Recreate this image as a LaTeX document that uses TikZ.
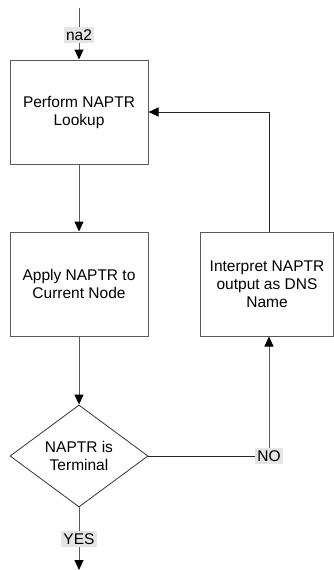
\documentclass[tikz,border=0pt]{standalone}
\usepackage{fontspec}
\setmainfont{Liberation Sans}
\usetikzlibrary{arrows.meta, positioning, shapes.geometric}

\begin{document}
\begin{tikzpicture}[x=1pt, y=-1pt, >={Triangle[length=10pt, width=9pt, color=black]},
    box/.style={draw=black!65, line width=1pt, minimum width=138pt, minimum height=104pt,
        inner sep=0pt, align=center, font=\fontsize{15.5}{18}\selectfont},
    decision/.style={diamond, draw=black!80, line width=0.8pt, minimum width=138pt,
        minimum height=102pt, inner sep=0pt, align=center, font=\fontsize{15.5}{18}\selectfont},
    tag/.style={fill=black!10, inner sep=2.5pt, font=\fontsize{15.5}{18}\selectfont},
    flow/.style={->, line width=1pt, draw=black!65}]

    % Fix the frame of the picture
    \useasboundingbox (0,0) rectangle (334,570);

    % Entry and exit points
    \coordinate (In) at (79,8);
    \coordinate (Out) at (79,570);

    % Process steps
    \node[box] (Lookup) at (79,112) {Perform NAPTR\\Lookup};
    \node[box] (Apply) at (79,284) {Apply NAPTR to\\Current Node};
    \node[box, minimum width=133pt] (Interpret) at (267,284) {Interpret NAPTR\\output as DNS\\Name};
    \node[decision] (Terminal) at (79,456) {NAPTR is\\Terminal};

    % Labels on the lines
    \node[tag] (Na2) at (79,35) {na2};
    \node[tag] (No) at (269,456) {NO};
    \node[tag] (Yes) at (79,539) {YES};

    % Main flow
    \draw[flow] (In) -- (Na2) -- (Lookup);
    \draw[flow] (Lookup) -- (Apply);
    \draw[flow] (Apply) -- (Terminal);
    \draw[flow] (Terminal) -- (Yes) -- (Out);

    % Loop back when not terminal
    \draw[line width=0.9pt, black!85] (Terminal.east) -- (No);
    \draw[flow] (No) -- (No |- Interpret.south);
    \draw[flow, black!85] (No |- Interpret.north) |- (Lookup.east);

\end{tikzpicture}
\end{document}
